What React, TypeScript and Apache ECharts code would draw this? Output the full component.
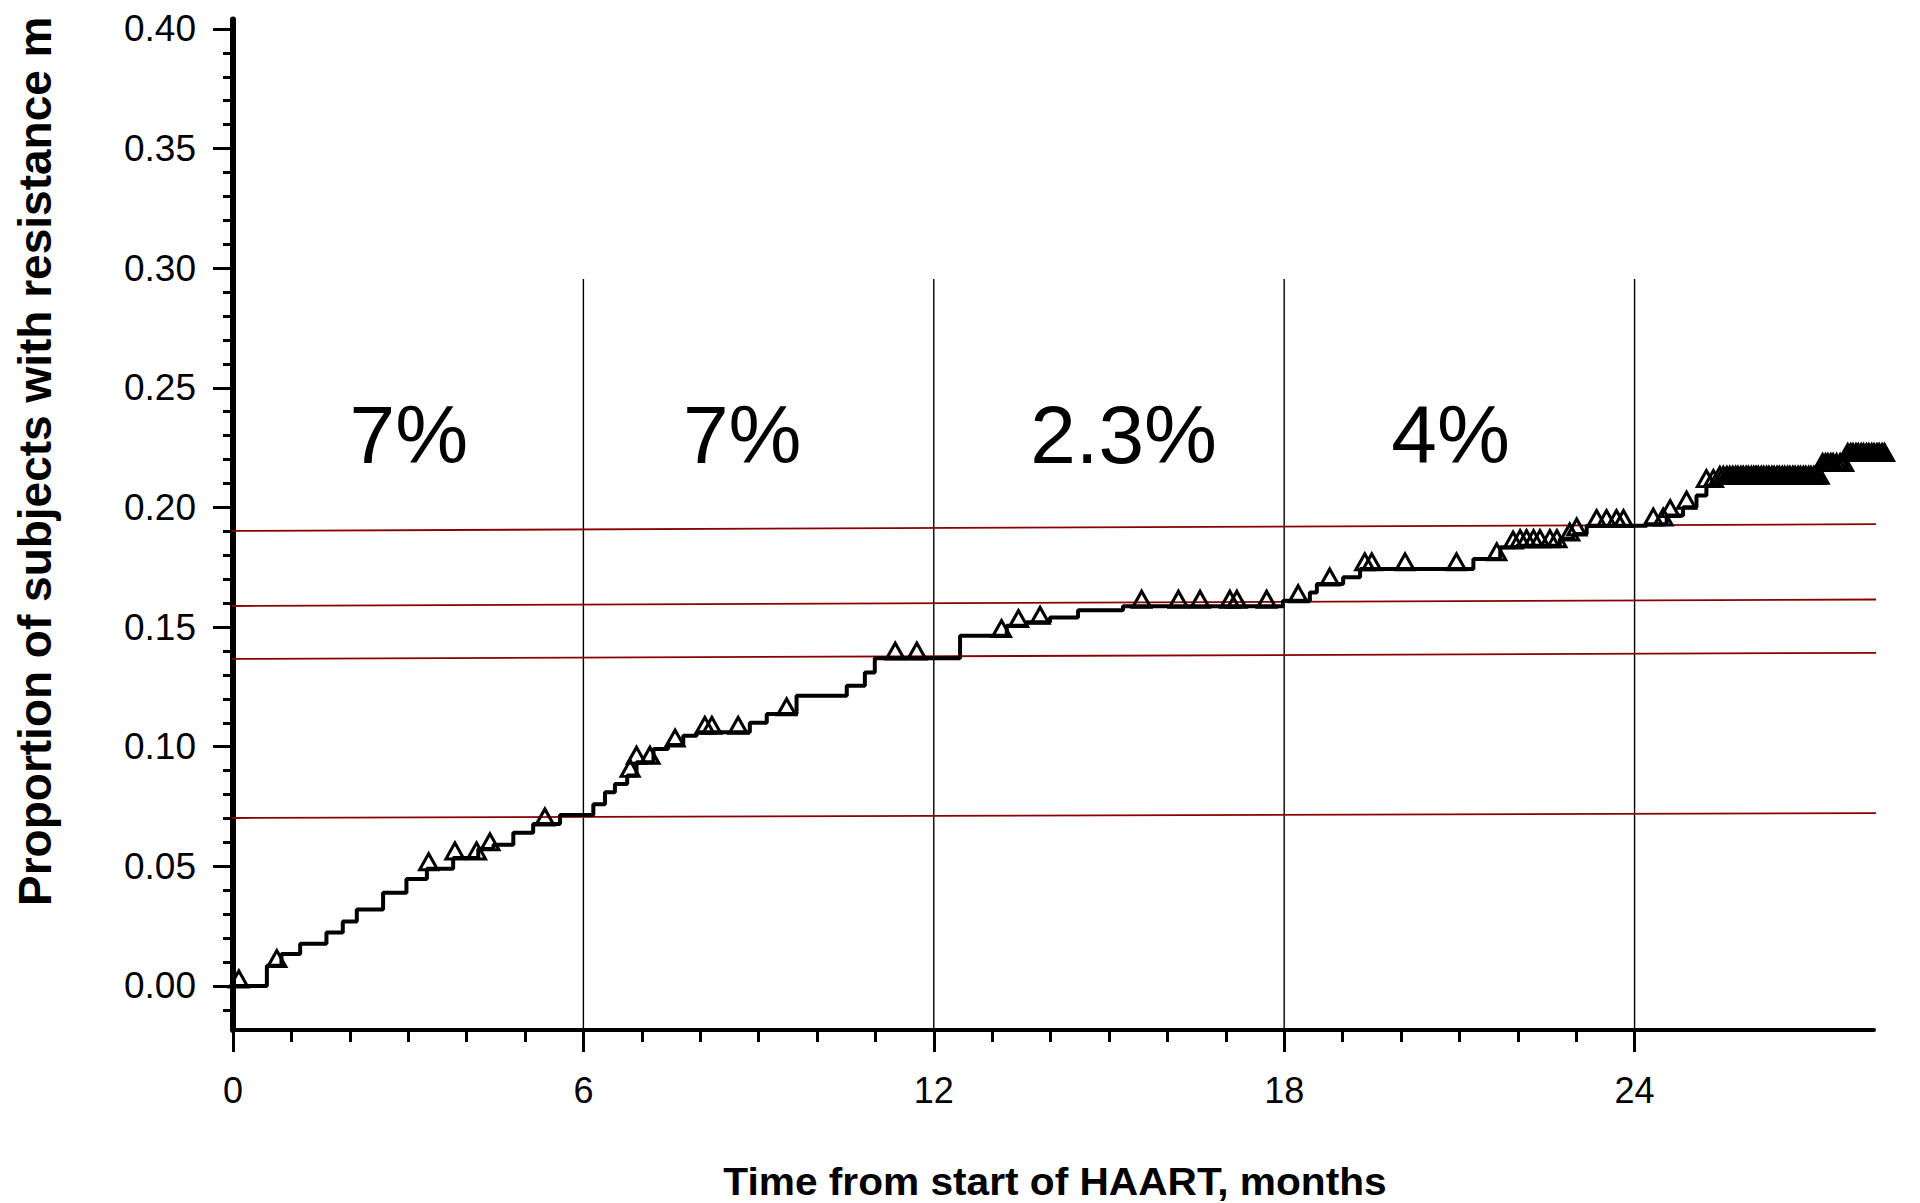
import React, { useEffect, useRef } from "react";
import * as echarts from "echarts";

// ---- Data ----
// Step (cumulative incidence) curve: time in months, proportion
const stepTimes = [0, 0.58, 0.83, 1.15, 1.6, 1.88, 2.12, 2.57, 2.97, 3.32, 3.77, 4.2, 4.46, 4.8, 5.14, 5.6, 6.17, 6.37, 6.54, 6.75, 6.91, 7.2, 7.45, 7.71, 7.94, 8.85, 9.14, 9.65, 10.51, 10.82, 10.99, 12.45, 13.25, 13.59, 13.99, 14.47, 15.24, 17.98, 18.44, 18.56, 19.01, 19.3, 21.24, 21.7, 21.98, 22.72, 22.95, 23.18, 24.21, 24.55, 24.83, 25.06, 25.23, 25.46, 27.2, 27.63, 28.3];
const stepValues = [0, 0.0085, 0.0134, 0.0176, 0.0224, 0.027, 0.032, 0.039, 0.0447, 0.049, 0.0535, 0.0573, 0.059, 0.064, 0.0677, 0.0715, 0.076, 0.081, 0.0844, 0.088, 0.0935, 0.099, 0.1007, 0.1046, 0.106, 0.11, 0.1137, 0.1213, 0.1255, 0.131, 0.137, 0.1464, 0.1506, 0.152, 0.154, 0.157, 0.1587, 0.161, 0.1645, 0.168, 0.1708, 0.1743, 0.1785, 0.1834, 0.184, 0.1868, 0.1889, 0.1924, 0.193, 0.1966, 0.2001, 0.205, 0.2091, 0.2105, 0.2158, 0.22, 0.22];

// Censoring marks (months)
const censorTimes = [0.1, 0.75, 3.35, 3.8, 4.17, 4.4, 5.34, 6.8, 6.91, 7.14, 7.57, 8.08, 8.2, 8.65, 9.48, 11.34, 11.71, 13.16, 13.45, 13.82, 15.56, 16.19, 16.56, 17.07, 17.19, 17.7, 18.24, 18.78, 19.38, 19.5, 20.07, 20.95, 21.64, 21.92, 22.04, 22.15, 22.27, 22.38, 22.55, 22.67, 22.89, 23.01, 23.35, 23.52, 23.69, 23.81, 24.32, 24.49, 24.61, 24.89, 25.23, 25.35, 25.46, 25.52, 25.58, 25.63, 25.68, 25.73, 25.77, 25.82, 25.86, 25.91, 25.95, 26.0, 26.04, 26.08, 26.12, 26.17, 26.21, 26.26, 26.3, 26.35, 26.39, 26.44, 26.48, 26.53, 26.57, 26.62, 26.66, 26.71, 26.75, 26.8, 26.84, 26.89, 26.93, 26.98, 27.02, 27.07, 27.11, 27.16, 27.22, 27.27, 27.31, 27.36, 27.4, 27.46, 27.52, 27.58, 27.65, 27.7, 27.74, 27.79, 27.83, 27.88, 27.92, 27.97, 28.01, 28.06, 28.1, 28.15, 28.19, 28.24, 28.28];

// Red reference lines: [left value, right value]
const redLineStart = [0.1902, 0.1588, 0.1367, 0.0702];
const redLineEnd = [0.1931, 0.1616, 0.1393, 0.0723];
const redLineX = [-0.1, 28.89];

// Vertical separators
const separatorMonths = [6, 12, 18, 24];
const separatorTop = 0.2955;

// Period annotations
const annotationText = ["7%", "7%", "2.3%", "4%"];
const annotationX = [3.01, 8.72, 15.25, 20.85];
const annotationY = 0.2304;

// Axes
const xMajorTicks = [0, 6, 12, 18, 24];
const xMinorTicks = [1, 2, 3, 4, 5, 7, 8, 9, 10, 11, 13, 14, 15, 16, 17, 19, 20, 21, 22, 23];
const yMajorTicks = [0, 0.05, 0.1, 0.15, 0.2, 0.25, 0.3, 0.35, 0.4];
const yMinorTicks = [-0.01, 0.01, 0.02, 0.03, 0.04, 0.06, 0.07, 0.08, 0.09, 0.11, 0.12, 0.13, 0.14, 0.16, 0.17, 0.18, 0.19, 0.21, 0.22, 0.23, 0.24, 0.26, 0.27, 0.28, 0.29, 0.31, 0.32, 0.33, 0.34, 0.36, 0.37, 0.38, 0.39];
const X_MIN = 0;
const X_MAX = 28.1;
const Y_MIN = -0.0184;
const Y_MAX = 0.4039;

const xTitle = "Time from start of HAART, months";
const yTitle = "Proportion of subjects with resistance m";

const FONT = "'Liberation Sans', Arial, Helvetica, sans-serif";

function valueAt(t: number): number {
  let v = stepValues[0];
  for (let i = 0; i < stepTimes.length; i++) {
    if (stepTimes[i] <= t) v = stepValues[i];
    else break;
  }
  return v;
}

export default function App() {
  const ref = useRef<HTMLDivElement>(null);

  useEffect(() => {
    if (!ref.current) return;
    const chart = echarts.init(ref.current, null, { renderer: "svg" });

    const series: any[] = [];

    separatorMonths.forEach((m) => {
      series.push({
        type: "line",
        xAxisIndex: 0,
        yAxisIndex: 0,
        data: [
          [m, Y_MIN],
          [m, separatorTop],
        ],
        symbol: "none",
        lineStyle: { color: "#000", width: 1.4 },
        z: 2,
        silent: true,
      });
    });

    redLineStart.forEach((v, i) => {
      series.push({
        type: "line",
        xAxisIndex: 0,
        yAxisIndex: 0,
        data: [
          [redLineX[0], v],
          [redLineX[1], redLineEnd[i]],
        ],
        symbol: "none",
        clip: false,
        lineStyle: { color: "#8b0000", width: 1.8 },
        z: 3,
        silent: true,
      });
    });

    series.push({
      type: "line",
      xAxisIndex: 0,
      yAxisIndex: 0,
      step: "end",
      data: stepTimes.map((t, i) => [t, stepValues[i]]),
      symbol: "none",
      clip: false,
      lineStyle: { color: "#000", width: 4 },
      z: 5,
    });

    series.push({
      type: "scatter",
      xAxisIndex: 0,
      yAxisIndex: 0,
      data: censorTimes.map((t) => [t, valueAt(t)]),
      symbol: "triangle",
      symbolSize: [18, 16],
      symbolOffset: [0, -7],
      clip: false,
      itemStyle: { color: "rgba(255,255,255,0)", borderColor: "#000", borderWidth: 3, opacity: 1 },
      z: 6,
    });

    series.push({
      type: "scatter",
      xAxisIndex: 0,
      yAxisIndex: 0,
      data: annotationText.map((txt, i) => ({ name: txt, value: [annotationX[i], annotationY] })),
      symbolSize: 0,
      itemStyle: { opacity: 1 },
      label: {
        show: true,
        position: "inside",
        formatter: "{b}",
        fontSize: 82,
        color: "#000",
        opacity: 1,
        textBorderWidth: 0,
        textBorderColor: "transparent",
        fontFamily: FONT,
      },
      z: 7,
    });

    const option: any = {
      animation: false,
      backgroundColor: "#fff",
      grid: { left: 233, right: 46, top: 19.6, bottom: 173, containLabel: false },
      xAxis: [
        {
          type: "value",
          min: X_MIN,
          max: X_MAX,
          position: "bottom",
          axisLine: { show: true, onZero: false, lineStyle: { color: "#000", width: 4 } },
          axisTick: { show: true, customValues: xMajorTicks, length: 22, lineStyle: { color: "#000", width: 3 } },
          axisLabel: { show: true, customValues: xMajorTicks, margin: 42, fontSize: 36, color: "#000", fontFamily: FONT },
          splitLine: { show: false },
        },
        {
          type: "value",
          min: X_MIN,
          max: X_MAX,
          position: "bottom",
          axisLine: { show: false, onZero: false },
          axisTick: { show: true, customValues: xMinorTicks, length: 12, lineStyle: { color: "#000", width: 3 } },
          axisLabel: { show: false },
          splitLine: { show: false },
        },
      ],
      yAxis: [
        {
          type: "value",
          min: Y_MIN,
          max: Y_MAX,
          position: "left",
          axisLine: { show: true, onZero: false, lineStyle: { color: "#000", width: 6 } },
          axisTick: { show: true, customValues: yMajorTicks, length: 20, lineStyle: { color: "#000", width: 3 } },
          axisLabel: {
            show: true,
            customValues: yMajorTicks,
            margin: 37,
            fontSize: 37,
            color: "#000",
            fontFamily: FONT,
            formatter: (v: number) => v.toFixed(2),
          },
          splitLine: { show: false },
        },
        {
          type: "value",
          min: Y_MIN,
          max: Y_MAX,
          position: "left",
          axisLine: { show: false, onZero: false },
          axisTick: { show: true, customValues: yMinorTicks, length: 10, lineStyle: { color: "#000", width: 3 } },
          axisLabel: { show: false },
          splitLine: { show: false },
        },
      ],
      graphic: [
        {
          type: "text",
          x: 1055,
          y: 1181,
          scaleX: 1.07,
          style: {
            text: xTitle,
            fontSize: 38,
            fontWeight: "bold",
            fontFamily: FONT,
            fill: "#000",
            align: "center",
            verticalAlign: "middle",
            textAlign: "center",
            textVerticalAlign: "middle",
          },
        },
        {
          type: "text",
          x: 35,
          y: 906,
          rotation: Math.PI / 2,
          style: {
            text: yTitle,
            fontSize: 46,
            fontWeight: "bold",
            fontFamily: FONT,
            fill: "#000",
            align: "left",
            verticalAlign: "middle",
            textAlign: "left",
            textVerticalAlign: "middle",
          },
        },
      ],
      series,
    };

    chart.setOption(option);
    return () => chart.dispose();
  }, []);

  return (
    <div
      ref={ref}
      style={{ position: "absolute", left: 0, top: 0, width: 1920, height: 1203, background: "#fff" }}
    />
  );
}
